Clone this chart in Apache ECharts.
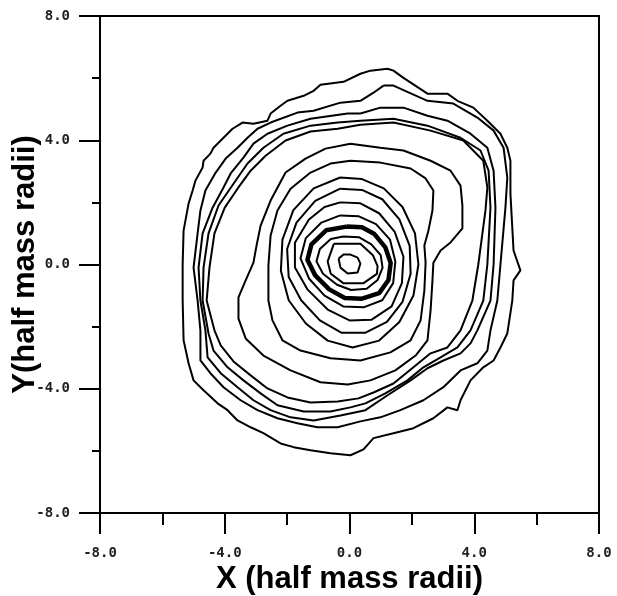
<!DOCTYPE html>
<html>
<head>
<meta charset="utf-8">
<script src="https://cdn.jsdelivr.net/npm/echarts/dist/echarts.min.js"></script>
<style>
  html, body { margin: 0; padding: 0; background: #fff; }
  #chart { width: 617px; height: 596px; }
</style>
</head>
<body>
<div id="chart"></div>
<script>
// Axis range and labelled ticks (half mass radii)
const axisMin = -8;
const axisMax = 8;
const tickStep = 4;

// Iso-density contours, each a closed path of [x, y] points, outermost first
const outer1 = [[1.22,6.30],[1.41,6.24],[1.73,6.01],[2.5,5.50],[3.14,5.50],[3.46,5.27],[3.97,5.05],[4.42,4.63],[4.84,4.21],[5.06,3.76],[5.16,3.34],[5.16,2.28],[5.26,0.45],[5.48,-0.19],[5.26,-0.51],[5.22,-1.16],[5.06,-2.22],[4.84,-2.67],[4.62,-3.09],[4.29,-3.31],[3.88,-3.73],[3.56,-4.37],[3.46,-4.69],[3.14,-4.60],[2.69,-4.95],[2.05,-5.27],[1.41,-5.43],[0.77,-5.59],[0.45,-5.95],[0.03,-6.14],[-0.61,-6.08],[-1.25,-5.98],[-1.79,-5.88],[-2.21,-5.76],[-2.76,-5.43],[-3.17,-5.24],[-3.59,-5.02],[-3.91,-4.69],[-4.23,-4.47],[-4.68,-4.05],[-5.0,-3.73],[-5.16,-3.18],[-5.32,-2.44],[-5.35,-1.16],[-5.35,0],[-5.32,1.09],[-5.16,1.96],[-5.03,2.38],[-4.94,2.70],[-4.71,3.12],[-4.68,3.34],[-4.46,3.57],[-4.36,3.76],[-4.04,4.08],[-3.75,4.37],[-3.43,4.57],[-3.08,4.53],[-2.63,4.63],[-2.53,4.86],[-2.21,5.11],[-1.99,5.27],[-1.47,5.43],[-1.15,5.59],[-0.93,5.79],[-0.19,5.88],[0.35,6.14],[0.67,6.24],[1.22,6.30]];

const outer2 = [[1.09,5.76],[1.41,5.76],[2.5,5.27],[3.33,5.18],[4.10,4.73],[4.62,4.31],[4.94,3.76],[5.06,2.80],[5.0,1.83],[4.84,0],[4.74,-1.16],[4.52,-2.12],[4.42,-2.77],[4.10,-3.18],[3.56,-3.41],[3.01,-3.95],[2.37,-4.37],[1.63,-4.69],[0.99,-4.92],[0.35,-5.05],[-0.38,-5.24],[-1.03,-5.24],[-1.67,-5.11],[-2.31,-4.95],[-2.95,-4.69],[-3.49,-4.37],[-4.04,-3.95],[-4.46,-3.5],[-4.78,-3.09],[-4.78,-2.12],[-4.87,-1.16],[-5.0,-0.1],[-4.87,1.0],[-4.78,1.74],[-4.62,2.38],[-4.29,2.96],[-3.97,3.41],[-3.59,3.76],[-3.27,4.08],[-2.95,4.37],[-2.53,4.57],[-1.67,4.89],[-1.15,4.95],[-0.29,5.21],[0.35,5.27],[0.77,5.53],[1.09,5.76]];

const outer3 = [[0.35,4.86],[0.99,5.05],[1.73,5.05],[2.5,4.79],[3.14,4.63],[3.88,4.21],[4.42,3.76],[4.62,3.02],[4.68,1.83],[4.62,0],[4.52,-1.16],[4.10,-2.12],[3.88,-2.54],[3.56,-2.86],[3.01,-3.09],[2.5,-3.34],[1.96,-3.73],[1.22,-4.21],[0.51,-4.69],[-0.29,-4.86],[-1.15,-5.02],[-1.89,-4.92],[-2.53,-4.69],[-3.08,-4.37],[-3.59,-3.95],[-4.13,-3.5],[-4.55,-2.99],[-4.62,-2.12],[-4.78,-1.16],[-4.84,-0.1],[-4.71,1.0],[-4.39,1.83],[-4.04,2.48],[-3.81,2.93],[-3.4,3.44],[-3.08,3.89],[-2.63,4.21],[-1.99,4.47],[-1.25,4.69],[-0.06,4.86],[0.35,4.86]];

const outer4 = [[0.35,4.63],[1.41,4.69],[2.5,4.47],[3.56,4.08],[4.2,3.67],[4.46,3.02],[4.52,1.83],[4.42,0],[4.29,-1.16],[3.88,-2.12],[3.46,-2.67],[2.92,-2.99],[2.37,-3.31],[1.86,-3.73],[1.15,-4.15],[0.51,-4.47],[0.03,-4.6],[-0.61,-4.73],[-1.47,-4.73],[-2.31,-4.53],[-2.85,-4.15],[-3.4,-3.73],[-3.91,-3.31],[-4.36,-2.77],[-4.52,-2.22],[-4.71,-1.16],[-4.68,-0.1],[-4.52,1.0],[-4.2,1.9],[-3.72,2.6],[-3.27,3.25],[-2.76,3.76],[-2.12,4.21],[-1.25,4.47],[-0.38,4.57],[0.35,4.63]];

const outer5 = [[0.35,4.5],[1.41,4.57],[2.6,4.31],[3.65,3.99],[4.29,3.34],[4.42,2.48],[4.36,1.74],[4.13,0],[3.94,-1.16],[3.56,-2.12],[3.14,-2.67],[2.6,-2.86],[2.05,-3.31],[1.41,-3.83],[0.77,-4.12],[0.29,-4.31],[-0.38,-4.41],[-1.25,-4.44],[-1.99,-4.28],[-2.63,-3.99],[-3.17,-3.57],[-3.72,-3.12],[-4.13,-2.6],[-4.33,-2.12],[-4.58,-1.16],[-4.49,-0.1],[-4.33,1.0],[-4.0,1.83],[-3.59,2.44],[-3.17,3.02],[-2.69,3.5],[-2.05,3.99],[-1.25,4.28],[-0.38,4.37],[0.35,4.5]];

const lobeRing = [[0.03,3.89],[0.99,3.76],[1.73,3.67],[2.6,3.34],[3.24,3.02],[3.56,2.54],[3.62,1.9],[3.62,1.16],[3.24,0.71],[2.92,0.45],[2.69,0.06],[2.66,-0.51],[2.6,-1.48],[2.5,-2.44],[2.12,-2.93],[1.47,-3.41],[0.67,-3.73],[-0.06,-3.86],[-0.93,-3.79],[-1.89,-3.41],[-2.76,-2.93],[-3.33,-2.38],[-3.56,-1.74],[-3.56,-1.06],[-3.33,-0.51],[-3.08,0.06],[-2.98,0.61],[-2.85,1.25],[-2.53,2.06],[-2.05,2.96],[-1.41,3.41],[-0.77,3.73],[0.03,3.89]];

const midRing = [[0.03,3.34],[0.99,3.28],[1.96,3.09],[2.44,2.77],[2.69,2.38],[2.66,1.74],[2.53,1.09],[2.40,0.61],[2.44,0.06],[2.40,-0.84],[2.28,-1.80],[1.96,-2.44],[1.31,-2.83],[0.35,-3.09],[-0.61,-3.02],[-1.57,-2.77],[-2.15,-2.44],[-2.47,-1.80],[-2.6,-1.16],[-2.6,-0.03],[-2.53,0.93],[-2.31,1.74],[-1.89,2.44],[-1.25,2.96],[-0.61,3.25],[0.03,3.34]];

const inner4 = [[-0.3,2.8],[0.4,2.75],[1.1,2.45],[1.7,1.85],[2.1,1.0],[2.21,0.0],[2.05,-1.0],[1.6,-1.85],[0.95,-2.45],[0.1,-2.67],[-0.7,-2.45],[-1.4,-1.9],[-1.95,-1.15],[-2.2,-0.2],[-2.15,0.8],[-1.8,1.75],[-1.15,2.45],[-0.3,2.8]];

const inner3 = [[-0.3,2.44],[0.4,2.4],[1.05,2.1],[1.6,1.45],[1.93,0.6],[1.96,-0.3],[1.7,-1.2],[1.2,-1.85],[0.5,-2.2],[-0.25,-2.2],[-0.95,-1.8],[-1.55,-1.15],[-1.95,-0.4],[-2.0,0.5],[-1.7,1.35],[-1.1,2.05],[-0.3,2.44]];

const inner2 = [[-0.3,2.0],[0.35,1.97],[0.95,1.65],[1.45,1.05],[1.73,0.25],[1.68,-0.6],[1.35,-1.35],[0.7,-1.78],[0.0,-1.8],[-0.7,-1.45],[-1.35,-0.8],[-1.75,-0.1],[-1.75,0.7],[-1.3,1.45],[-0.8,1.85],[-0.3,2.0]];

const inner1 = [[-0.3,1.58],[0.3,1.55],[0.85,1.3],[1.3,0.8],[1.47,0.1],[1.4,-0.6],[1.05,-1.15],[0.45,-1.38],[-0.2,-1.35],[-0.8,-1.0],[-1.3,-0.45],[-1.57,0.2],[-1.4,0.85],[-0.9,1.35],[-0.3,1.58]];

// Highlighted (heavy) contour around the core
const heavyRing = [[-0.1,1.22],[0.4,1.2],[0.8,0.98],[1.15,0.55],[1.32,0.05],[1.25,-0.5],[0.95,-0.92],[0.4,-1.1],[-0.15,-1.08],[-0.65,-0.8],[-1.1,-0.35],[-1.35,0.15],[-1.22,0.65],[-0.75,1.1],[-0.1,1.22]];

const core1 = [[-0.2,0.9],[0.3,0.88],[0.7,0.65],[1.0,0.3],[1.06,-0.1],[0.9,-0.5],[0.55,-0.78],[0.05,-0.82],[-0.4,-0.65],[-0.85,-0.3],[-1.06,0.1],[-0.95,0.5],[-0.6,0.82],[-0.2,0.9]];

const core2 = [[-0.5,0.67],[0.35,0.67],[0.75,0.3],[0.9,-0.05],[0.88,-0.3],[0.45,-0.6],[-0.2,-0.6],[-0.6,-0.3],[-0.7,0.1],[-0.5,0.67]];

const core3 = [[-0.35,0.19],[-0.19,0.32],[0.03,0.32],[0.26,0.22],[0.35,0.03],[0.26,-0.26],[-0.06,-0.29],[-0.29,-0.1],[-0.35,0.19]];

const thinContours = [outer1, outer2, outer3, outer4, outer5, lobeRing, midRing,
                      inner4, inner3, inner2, inner1, core1, core2, core3];

const series = thinContours.map(ring => ({
  type: 'line',
  data: ring,
  symbol: 'none',
  smooth: false,
  silent: true,
  lineStyle: { color: '#000', width: 2 }
}));
series.push({
  type: 'line',
  data: heavyRing,
  symbol: 'none',
  smooth: false,
  silent: true,
  lineStyle: { color: '#000', width: 4.5 }
});

const tickFont = {
  fontFamily: 'DejaVu Sans Mono',
  fontSize: 14,
  fontWeight: 'bold',
  color: '#222',
  formatter: v => v.toFixed(1)
};
const titleFont = {
  fontFamily: 'Liberation Sans',
  fontSize: 31,
  fontWeight: 'bold',
  color: '#000'
};

function makeAxis(name, gap, minorLen, labelMargin) {
  return {
    type: 'value',
    min: axisMin,
    max: axisMax,
    interval: tickStep,
    name: name,
    nameLocation: 'middle',
    nameGap: gap,
    nameMoveOverlap: false,
    nameTextStyle: titleFont,
    axisLine: { show: true, onZero: false, lineStyle: { color: '#000', width: 2 } },
    axisTick: { show: true, inside: false, length: 21, lineStyle: { color: '#000', width: 2 } },
    minorTick: { show: true, splitNumber: 2, length: minorLen, lineStyle: { color: '#000', width: 2 } },
    splitLine: { show: false },
    minorSplitLine: { show: false },
    axisLabel: Object.assign({ margin: labelMargin }, tickFont)
  };
}

const chart = echarts.init(document.getElementById('chart'), null, { renderer: 'canvas' });
chart.setOption({
  animation: false,
  backgroundColor: '#fff',
  grid: {
    left: 100, right: 18, top: 16, bottom: 83,
    containLabel: false,
    outerBoundsMode: 'none',
    show: true, borderColor: '#000', borderWidth: 2, backgroundColor: 'transparent'
  },
  xAxis: makeAxis('X (half mass radii)', 51, 12, 33),
  yAxis: Object.assign(makeAxis('Y(half mass radii)', 59, 8, 30), { nameRotate: 90 }),
  series: series
});
</script>
</body>
</html>
